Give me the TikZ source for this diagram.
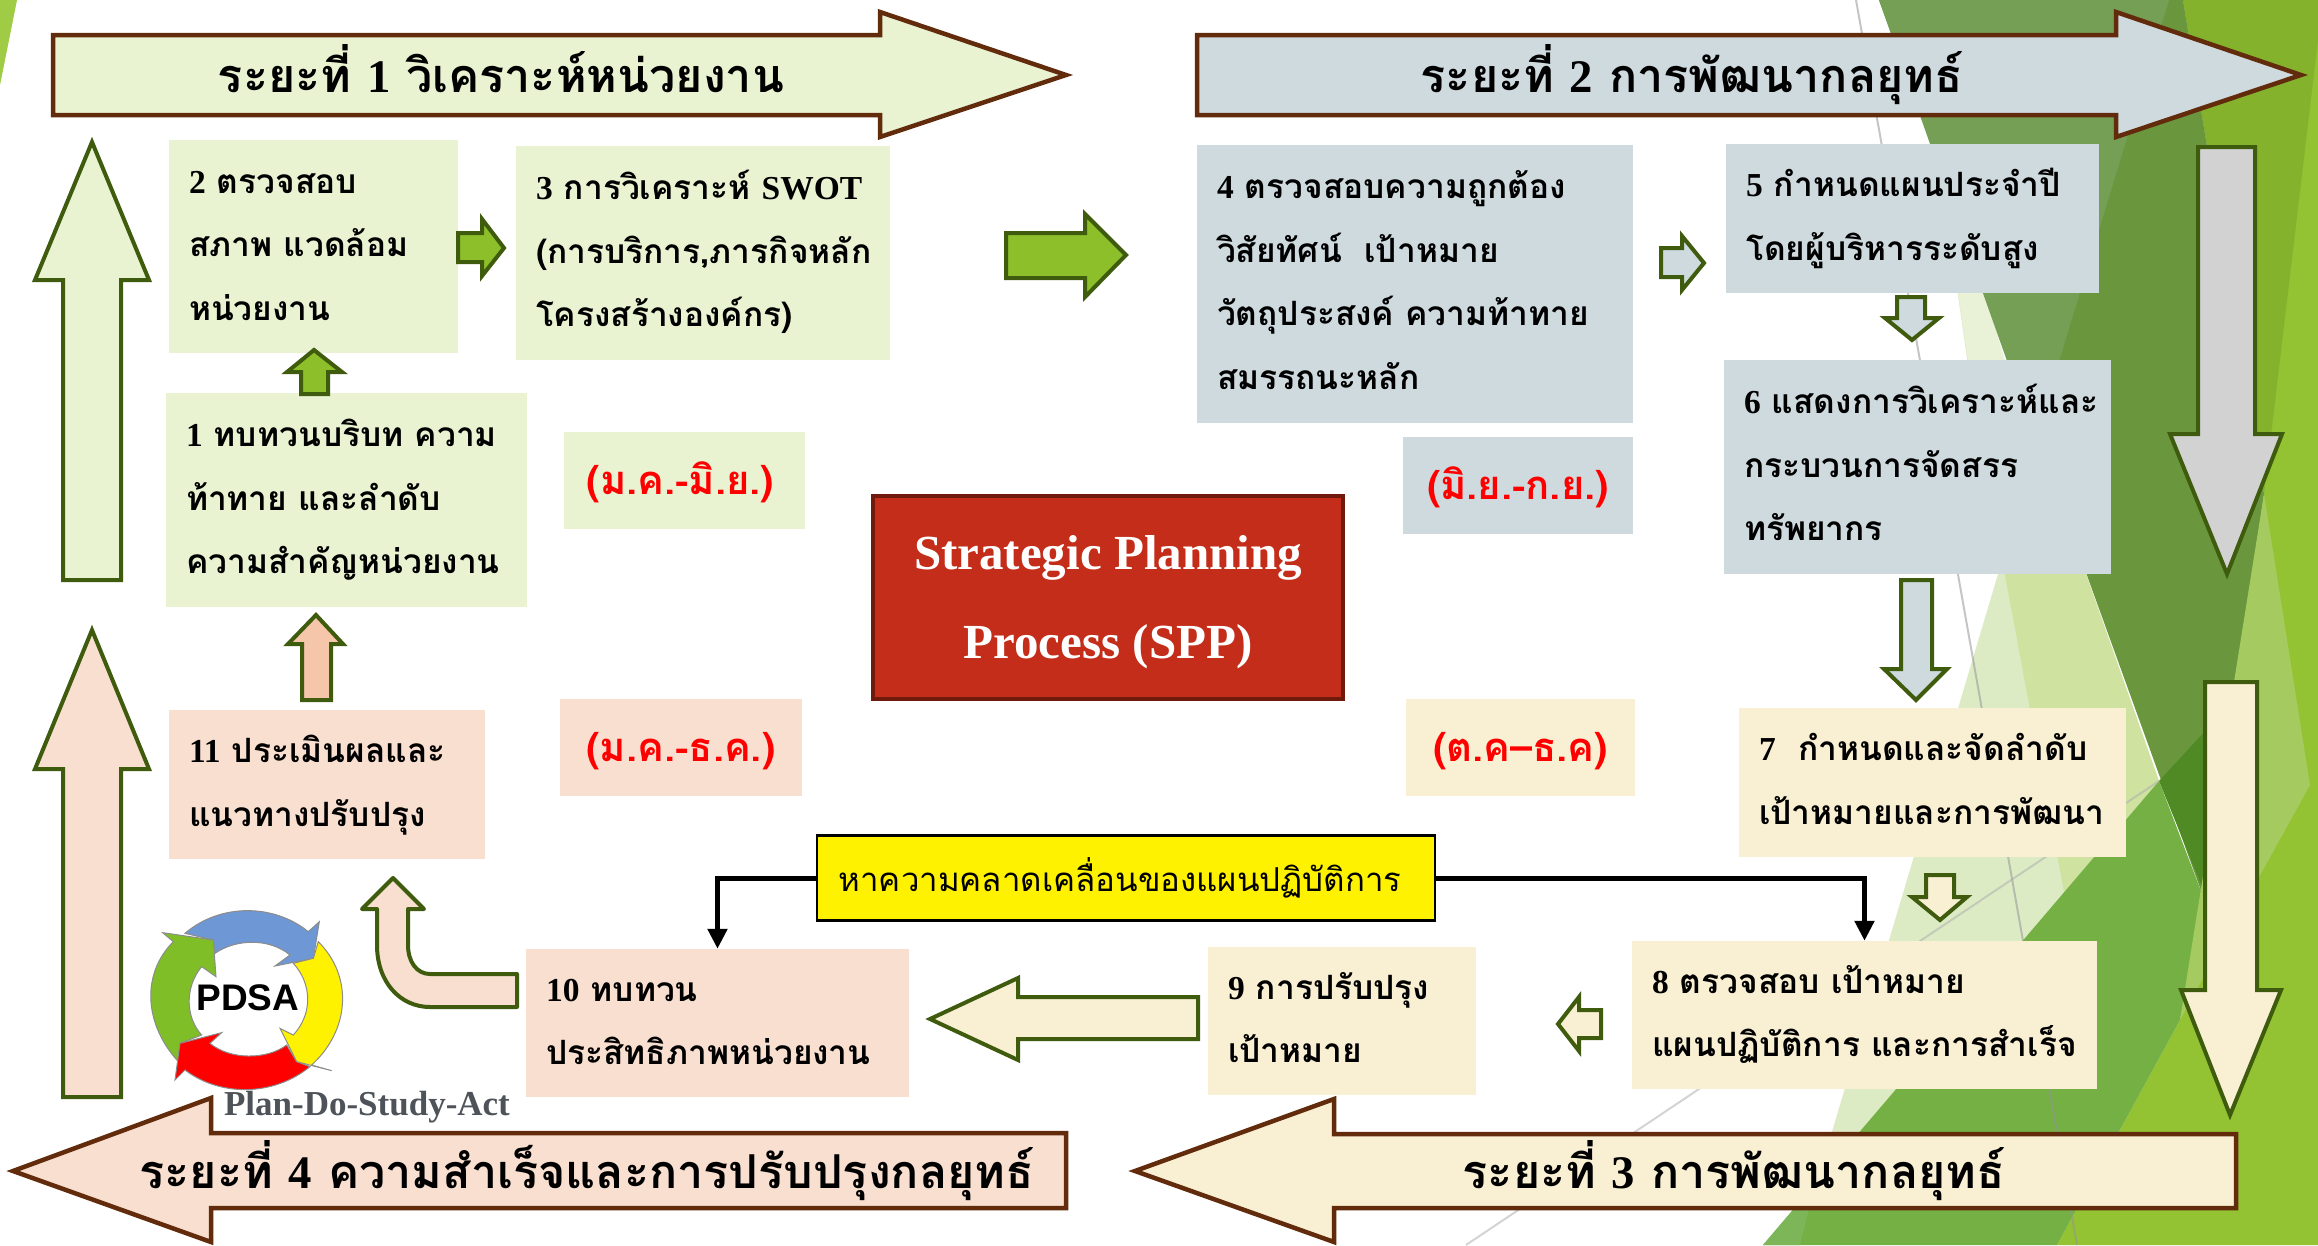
\documentclass[tikz,border=0pt]{standalone}
\usepackage{fontspec}
\usetikzlibrary{arrows.meta}
\setmainfont{Liberation Serif}
\newfontfamily\thaifont[Script=Thai]{Loma}
\newfontfamily\pdsafont{Liberation Sans}
\definecolor{gbox}{HTML}{E9F3D2}
\definecolor{bbox}{HTML}{CFDADF}
\definecolor{pbox}{HTML}{F9DFD0}
\definecolor{cbox}{HTML}{F9F0D3}
\definecolor{brn}{HTML}{622B0B}
\definecolor{olive}{HTML}{3F5B0E}
\definecolor{leaf}{HTML}{8DBF2A}
\definecolor{spp}{HTML}{C32D19}
\definecolor{sppd}{HTML}{701A0E}
\tikzset{
  panel/.style={draw=none,inner sep=0pt,align=left,font=\thaifont\bfseries\fontsize{33.5}{63.5}\selectfont},
  datebox/.style={draw=none,inner sep=0pt,text=red,font=\thaifont\bfseries\fontsize{40}{48}\selectfont},
  phase/.style={draw=brn,line width=4.5pt,miter limit=10},
  blockarrow/.style={draw=olive,line width=4pt,miter limit=10},
  title/.style={inner sep=0pt,anchor=base,font=\thaifont\bfseries\fontsize{46.7}{56}\selectfont},
  elbow/.style={draw=black,line width=5pt,-{Triangle[length=20pt,width=19pt]}},
}
\newcommand{\lat}[1]{{\rmfamily\bfseries #1}}
\newcommand{\boxn}[7]{\node[panel,fill=#6,minimum width={(#4-#2)*1pt},minimum height={(#5-#3)*1pt},text width={(#4-#2-40)*1pt}] (#1) at ({(#2+#4)/2},{(#3+#5)/2}) {\rule{0pt}{45pt}#7\rule[-25pt]{0pt}{1pt}};}
\newcommand{\dbox}[7]{\node[datebox,fill=#6,minimum width={(#4-#2)*1pt},minimum height={(#5-#3)*1pt}] (#1) at ({(#2+#4)/2},{(#3+#5)/2}) {\rule{0pt}{50pt}#7\rule[-23pt]{0pt}{1pt}};}
\begin{document}
\begin{tikzpicture}[x=1pt,y=-1pt]
\useasboundingbox (0,0) rectangle (2318,1245);
% ---------- background ----------
\fill[white] (0,0) rectangle (2318,1245);
\fill[color={rgb,255:red,160;green,204;blue,69}] (0,0) -- (17,0) -- (0,85) -- cycle;
\fill[color={rgb,255:red,147;green,194;blue,50}] (2183,0) -- (2318,0) -- (2318,1245) -- (2057,1245) -- (2180,1020) -- (2264,494) -- cycle;
\fill[color={rgb,255:red,132;green,178;blue,45}] (2183,0) -- (2318,0) -- (2318,40) -- (2264,494) -- cycle;
\fill[color={rgb,255:red,221;green,235;blue,197}] (1950,240) -- (2159,781) -- (1817,1182) -- (1998,574) -- cycle;
\fill[color={rgb,255:red,233;green,242;blue,214}] (1958,293) -- (2000,574) -- (2068,574) -- (1985,293) -- cycle;
\fill[color={rgb,255:red,207;green,226;blue,160}] (1991,500) -- (2060,500) -- (2159,781) -- (2064,892) -- cycle;
\fill[color={rgb,255:red,116;green,176;blue,68}] (1763,1245) -- (2159,781) -- (2204,899) -- (2180,1020) -- (2057,1245) -- cycle;
\fill[color={rgb,255:red,124;green,182;blue,88}] (1763,1245) -- (1815,1184) -- (1800,1245) -- cycle;
\fill[color={rgb,255:red,106;green,151;blue,62}] (1879,0) -- (2183,0) -- (2264,494) -- (2204,899) -- cycle;
\fill[color={rgb,255:red,117;green,159;blue,85}] (1879,0) -- (2169,0) -- (2035,440) -- cycle;
\fill[color={rgb,255:red,79;green,138;blue,37}] (2159,781) -- (2207,729) -- (2207,899) -- cycle;
\fill[color={rgb,255:red,165;green,203;blue,96}] (2264,494) -- (2310,785) -- (2180,1020) -- cycle;
\draw[color={rgb,255:red,150;green,150;blue,150},opacity=.55,line width=2pt] (1856,0) -- (2077,1245);
\draw[color={rgb,255:red,170;green,170;blue,170},opacity=.5,line width=2pt] (1466,1245) -- (2159,781);
% ---------- phase arrows ----------
\draw[phase,fill=gbox] (53,35) -- (880,35) -- (880,12) -- (1066,75) -- (880,137) -- (880,115) -- (53,115) -- cycle;
\draw[phase,fill=bbox] (1197,35) -- (2116,35) -- (2116,12) -- (2301,75) -- (2116,137) -- (2116,115) -- (1197,115) -- cycle;
\draw[phase,fill=cbox] (2236,1134) -- (1334,1134) -- (1334,1099) -- (1135,1171) -- (1334,1242) -- (1334,1208) -- (2236,1208) -- cycle;
\draw[phase,fill=pbox] (1066,1133) -- (211,1133) -- (211,1098) -- (13,1171) -- (211,1242) -- (211,1208) -- (1066,1208) -- cycle;
\node[title] (t1) at (501,92) {ระยะที่ \lat{1} วิเคราะห์หน่วยงาน};
\node[title] (t2) at (1692,92) {ระยะที่ \lat{2} การพัฒนากลยุทธ์};
\node[title] (t3) at (1734,1188) {ระยะที่ \lat{3} การพัฒนากลยุทธ์};
\node[title] (t4) at (587,1188) {ระยะที่ \lat{4} ความสำเร็จและการปรับปรุงกลยุทธ์};
% ---------- big side arrows ----------
\draw[blockarrow,fill=gbox] (92,142) -- (149,280) -- (121,280) -- (121,580) -- (63,580) -- (63,280) -- (35,280) -- cycle;
\draw[blockarrow,fill=pbox] (92,630) -- (149,769) -- (121,769) -- (121,1097) -- (63,1097) -- (63,769) -- (35,769) -- cycle;
\draw[blockarrow,fill={rgb,255:red,210;green,210;blue,210}] (2198,147) -- (2255,147) -- (2255,434) -- (2282,434) -- (2227,574) -- (2170,434) -- (2198,434) -- cycle;
\draw[blockarrow,fill=cbox] (2205,682) -- (2257,682) -- (2257,990) -- (2281,990) -- (2230,1115) -- (2181,990) -- (2205,990) -- cycle;
% ---------- panels ----------
\boxn{b2}{169}{140}{458}{353}{gbox}{\lat{2} ตรวจสอบ\\สภาพ แวดล้อม\\หน่วยงาน}
\boxn{b3}{516}{146}{890}{360}{gbox}{\mbox{\lat{3} การวิเคราะห์ \lat{SWOT}}\\(การบริการ,ภารกิจหลัก\\โครงสร้างองค์กร)}
\boxn{b1}{166}{393}{527}{607}{gbox}{\mbox{\lat{1} ทบทวนบริบท ความ}\\ท้าทาย และลำดับ\\ความสำคัญหน่วยงาน}
\boxn{b4}{1197}{145}{1633}{423}{bbox}{\lat{4} ตรวจสอบความถูกต้อง\\วิสัยทัศน์\ \ เป้าหมาย\\\mbox{วัตถุประสงค์ ความท้าทาย}\\สมรรถนะหลัก}
\boxn{b5}{1726}{144}{2099}{293}{bbox}{\lat{5} กำหนดแผนประจำปี\\โดยผู้บริหารระดับสูง}
\boxn{b6}{1724}{360}{2111}{574}{bbox}{\mbox{\lat{6} แสดงการวิเคราะห์และ}\\กระบวนการจัดสรร\\ทรัพยากร}
\boxn{b7}{1739}{708}{2126}{857}{cbox}{\lat{7}\ \ กำหนดและจัดลำดับ\\เป้าหมายและการพัฒนา}
\boxn{b8}{1632}{941}{2097}{1089}{cbox}{\lat{8} ตรวจสอบ เป้าหมาย\\\mbox{แผนปฏิบัติการ และการสำเร็จ}}
\boxn{b9}{1208}{947}{1476}{1095}{cbox}{\lat{9} การปรับปรุง\\เป้าหมาย}
\boxn{b10}{526}{949}{909}{1097}{pbox}{\lat{10} ทบทวน\\ประสิทธิภาพหน่วยงาน}
\boxn{b11}{169}{710}{485}{859}{pbox}{\lat{11} ประเมินผลและ\\แนวทางปรับปรุง}
\dbox{d1}{564}{432}{805}{529}{gbox}{\hspace*{-8pt}(ม.ค.-มิ.ย.)}
\dbox{d2}{1403}{437}{1633}{534}{bbox}{(มิ.ย.-ก.ย.)}
\dbox{d3}{1406}{699}{1635}{796}{cbox}{(ต.ค–ธ.ค)}
\dbox{d4}{560}{699}{802}{796}{pbox}{(ม.ค.-ธ.ค.)}
% ---------- centre ----------
\node[draw=sppd,line width=4pt,fill=spp,text=white,align=center,minimum width=470pt,minimum height=203pt,inner sep=0pt,font=\bfseries\fontsize{49}{89}\selectfont] (spp) at (1108,597) {\rule{0pt}{44pt}Strategic Planning\\Process (SPP)};
% ---------- small arrows ----------
\draw[blockarrow,fill=leaf] (458,233) -- (482,233) -- (482,219) -- (504,248) -- (482,276) -- (482,262) -- (458,262) -- cycle;
\draw[blockarrow,fill=leaf] (1006,233) -- (1085,233) -- (1085,214) -- (1126,255) -- (1085,297) -- (1085,278) -- (1006,278) -- cycle;
\draw[blockarrow,fill=leaf] (314,350) -- (342,372) -- (328,372) -- (328,394) -- (301,394) -- (301,372) -- (287,372) -- cycle;
\draw[blockarrow,fill=bbox] (1661,248) -- (1682,248) -- (1682,236) -- (1704,263) -- (1682,290) -- (1682,277) -- (1661,277) -- cycle;
\draw[blockarrow,fill=bbox] (1897,297) -- (1925,297) -- (1925,318) -- (1939,318) -- (1912,340) -- (1885,318) -- (1897,318) -- cycle;
\draw[blockarrow,fill=bbox] (1901,580) -- (1932,580) -- (1932,669) -- (1947,669) -- (1916,700) -- (1884,669) -- (1901,669) -- cycle;
\draw[blockarrow,fill=cbox] (1926,875) -- (1954,875) -- (1954,897) -- (1967,897) -- (1940,920) -- (1912,897) -- (1926,897) -- cycle;
\draw[blockarrow,fill=cbox] (1601,1010) -- (1579,1010) -- (1579,997) -- (1558,1024) -- (1579,1051) -- (1579,1038) -- (1601,1038) -- cycle;
\draw[blockarrow,fill=cbox] (1198,997) -- (1018,997) -- (1018,978) -- (930,1019) -- (1018,1060) -- (1018,1039) -- (1198,1039) -- cycle;
\draw[blockarrow,fill={rgb,255:red,245;green,198;blue,170}] (316,615) -- (343,644) -- (331,644) -- (331,700) -- (302,700) -- (302,644) -- (288,644) -- cycle;
\draw[blockarrow,fill=pbox,line join=round] (517,974) -- (430,974) .. controls (417,974) and (408,962) .. (408,945) -- (408,909) -- (424,909) -- (393,878) -- (362,909) -- (377,909) -- (377,945) .. controls (377,982) and (400,1007) .. (430,1007) -- (517,1007) -- cycle;
% ---------- yellow note ----------
\node[draw=black,line width=2.5pt,fill=yellow,minimum width=618pt,minimum height=85pt,inner sep=0pt,font=\thaifont\fontsize{33}{40}\selectfont] (note) at (1126,878) {\hspace*{-12pt}หาความคลาดเคลื่อนของแผนปฏิบัติการ};
\draw[elbow] (note.east) -| (b8.north);
\draw[elbow] (note.west) -| (b10.north);
% ---------- PDSA logo ----------
\begin{scope}[shift={(130,880)},x=.3333pt,y=-.3333pt,line width=1pt,draw=black!45]
\draw[fill={rgb,255:red,109;green,151;blue,213}] (165,160) .. controls (270,70) and (430,70) .. (535,155) -- (568,125) -- (550,235) -- (435,258) -- (480,225) .. controls (420,175) and (320,175) .. (255,220) -- (250,180) -- cycle;
\draw[fill={rgb,255:red,127;green,190;blue,39}] (145,545) .. controls (40,430) and (35,280) .. (130,185) -- (98,158) -- (250,180) -- (258,290) -- (215,260) .. controls (165,320) and (165,410) .. (215,465) -- (150,490) -- cycle;
\draw[fill=red] (540,560) .. controls (430,650) and (270,650) .. (165,570) -- (135,600) -- (150,490) -- (275,458) -- (240,490) .. controls (300,540) and (410,540) .. (470,495) -- (500,545) -- cycle;
\draw[fill=yellow] (565,185) .. controls (670,290) and (660,450) .. (545,555) -- (605,572) -- (500,545) -- (450,445) -- (490,465) .. controls (550,400) and (545,310) .. (490,250) -- (550,235) -- cycle;
\end{scope}
\node[inner sep=0pt,font=\pdsafont\bfseries\fontsize{37}{44}\selectfont] (pdsa) at (248,998) {PDSA};
\node[inner sep=0pt,text={rgb,255:red,77;green,83;blue,89},font=\bfseries\fontsize{35}{42}\selectfont] (pdsacap) at (367,1107) {Plan-Do-Study-Act};
\end{tikzpicture}
\end{document}
